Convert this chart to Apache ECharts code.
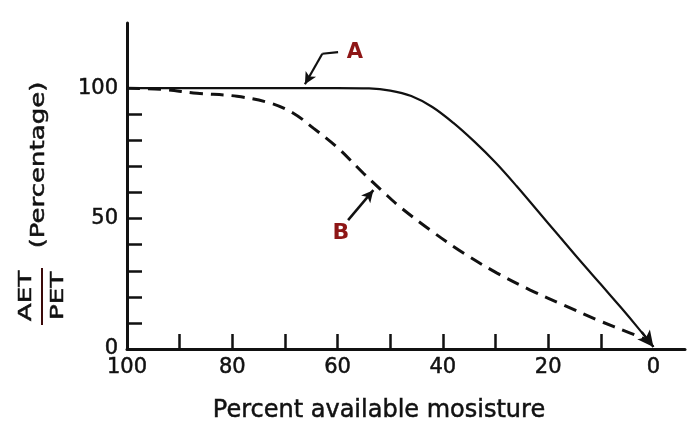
<!DOCTYPE html>
<html>
<head>
<meta charset="utf-8">
<script src="https://cdn.jsdelivr.net/npm/echarts@6/dist/echarts.min.js"></script>
<style>
  html, body { margin: 0; padding: 0; background: #fff; }
  #chart { width: 694px; height: 431px; }
</style>
</head>
<body>
<div id="chart"></div>
<script>
// curve A (solid): [percent available moisture, AET/PET %]
var curveA = [
    [100, 100], [90, 100], [80, 100], [70, 100], [60, 100], [54, 99.9],
    [50, 99.1], [46, 97.0], [42, 92.8], [38, 86.7], [34, 79.5], [30, 71.5],
    [26, 62.5], [22, 53], [18, 43.5], [14, 34], [10, 24.8], [6, 15.5],
    [3, 8.3], [0, 0.8]
];
// curve B (dashed)
var curveB = [
    [100, 100], [93.7, 99.6], [86.7, 98.1], [79.1, 96.9], [72.8, 94.3],
    [68.4, 90.4], [64.6, 84.7], [60.1, 77.4], [55.1, 67.4], [51.3, 60.2],
    [48.1, 54.4], [42.4, 45.6], [36.1, 36.8], [29.7, 29.1], [23.4, 22.6],
    [17.1, 16.9], [10.6, 11.1], [4.4, 6.1], [1.1, 3.4]
];
var xTicks = [10, 20, 30, 40, 50, 60, 70, 80, 90];
var xLabels = [0, 20, 40, 60, 80, 100];
var yTicks = [10, 20, 30, 40, 50, 60, 70, 80, 90];
var yLabels = [0, 50, 100];

var font = 'DejaVu Sans';
var ink = '#111';
var red = '#8e1616';

// a thin outline to make DejaVu look a bit heavier, like the original face
var heavy = { textBorderColor: ink, textBorderWidth: 0.5 };

var myChart = echarts.init(document.getElementById('chart'));

var option = {
    backgroundColor: '#fff',
    animation: false,
    grid: { left: 127, right: 9, top: 23, bottom: 82 },
    xAxis: {
        type: 'value',
        min: -6,
        max: 100,
        inverse: true,
        name: 'Percent available mosisture',
        nameLocation: 'middle',
        nameGap: 50,
        nameTextStyle: echarts.util.extend({ fontFamily: font, fontSize: 24, color: ink, padding: [0, 54, 0, 0] }, heavy),
        axisLine: { onZero: false, lineStyle: { color: ink, width: 3 } },
        axisTick: {
            inside: true, length: 15, customValues: xTicks,
            lineStyle: { color: ink, width: 2.5 }
        },
        axisLabel: echarts.util.extend({
            customValues: xLabels, margin: 8,
            fontFamily: font, fontSize: 21, color: ink
        }, heavy),
        splitLine: { show: false }
    },
    yAxis: {
        type: 'value',
        min: 0,
        max: 125,
        position: 'left',
        axisLine: { show: true, onZero: false, lineStyle: { color: ink, width: 3 } },
        axisTick: {
            show: true, inside: true, length: 15, customValues: yTicks,
            lineStyle: { color: ink, width: 2.5 }
        },
        axisLabel: echarts.util.extend({
            customValues: yLabels, margin: 9,
            fontFamily: font, fontSize: 21, color: ink
        }, heavy),
        splitLine: { show: false }
    },
    series: [
        {
            name: 'A',
            type: 'line',
            data: curveA,
            smooth: 0.35,
            showSymbol: false,
            lineStyle: { color: ink, width: 2.2 },
            z: 3,
            markLine: {
                silent: true,
                animation: false,
                label: { show: false },
                lineStyle: { color: ink, width: 2.2, type: 'solid' },
                data: [
                    // arrow head at the end of A
                    [{ coord: [2.2, 6.5], symbol: 'none' }, { coord: [0, 0.8], symbol: 'arrow', symbolSize: [12, 16] }],
                    // pointer from label A
                    [{ coord: [59.9, 113.8], symbol: 'none' }, { coord: [62.9, 113.2], symbol: 'none' }],
                    [{ coord: [62.9, 113.2], symbol: 'none' }, { coord: [66.2, 101.5], symbol: 'arrow', symbolSize: [9, 12],
                        lineStyle: { curveness: -0.25 } }]
                ]
            }
        },
        {
            name: 'B',
            type: 'line',
            data: curveB,
            smooth: 0.35,
            showSymbol: false,
            lineStyle: { color: ink, width: 3, type: [13, 8] },
            z: 2,
            markLine: {
                silent: true,
                animation: false,
                label: { show: false },
                lineStyle: { color: ink, width: 2.5, type: 'solid' },
                data: [
                    [{ coord: [58, 49.4], symbol: 'none' }, { coord: [53.2, 60.9], symbol: 'arrow', symbolSize: [9, 12] }]
                ]
            }
        }
    ],
    graphic: [
        {
            type: 'text', x: 355, y: 53,
            style: { text: 'A', fontFamily: font, fontSize: 21, fontWeight: 'bold', fill: red, align: 'center', verticalAlign: 'middle' }
        },
        {
            type: 'text', x: 341, y: 233,
            style: { text: 'B', fontFamily: font, fontSize: 22, fontWeight: 'bold', fill: red, align: 'center', verticalAlign: 'middle' }
        },
        {
            type: 'text', x: 39, y: 165, rotation: Math.PI / 2, scaleX: 1.3,
            style: { text: '(Percentage)', fontFamily: font, fontSize: 20, fill: ink, stroke: ink, lineWidth: 0.5,
                align: 'center', verticalAlign: 'middle' }
        },
        {
            type: 'text', x: 26, y: 296, rotation: Math.PI / 2, scaleX: 1.45,
            style: { text: 'AET', fontFamily: font, fontSize: 18, fill: ink, stroke: ink, lineWidth: 0.5,
                align: 'center', verticalAlign: 'middle' }
        },
        {
            type: 'text', x: 58, y: 296, rotation: Math.PI / 2, scaleX: 1.45,
            style: { text: 'PET', fontFamily: font, fontSize: 18, fill: ink, stroke: ink, lineWidth: 0.5,
                align: 'center', verticalAlign: 'middle' }
        },
        {
            type: 'line',
            shape: { x1: 42, y1: 268, x2: 42, y2: 325 },
            style: { stroke: '#3b0a0a', lineWidth: 2 }
        }
    ]
};

myChart.setOption(option);
</script>
</body>
</html>
